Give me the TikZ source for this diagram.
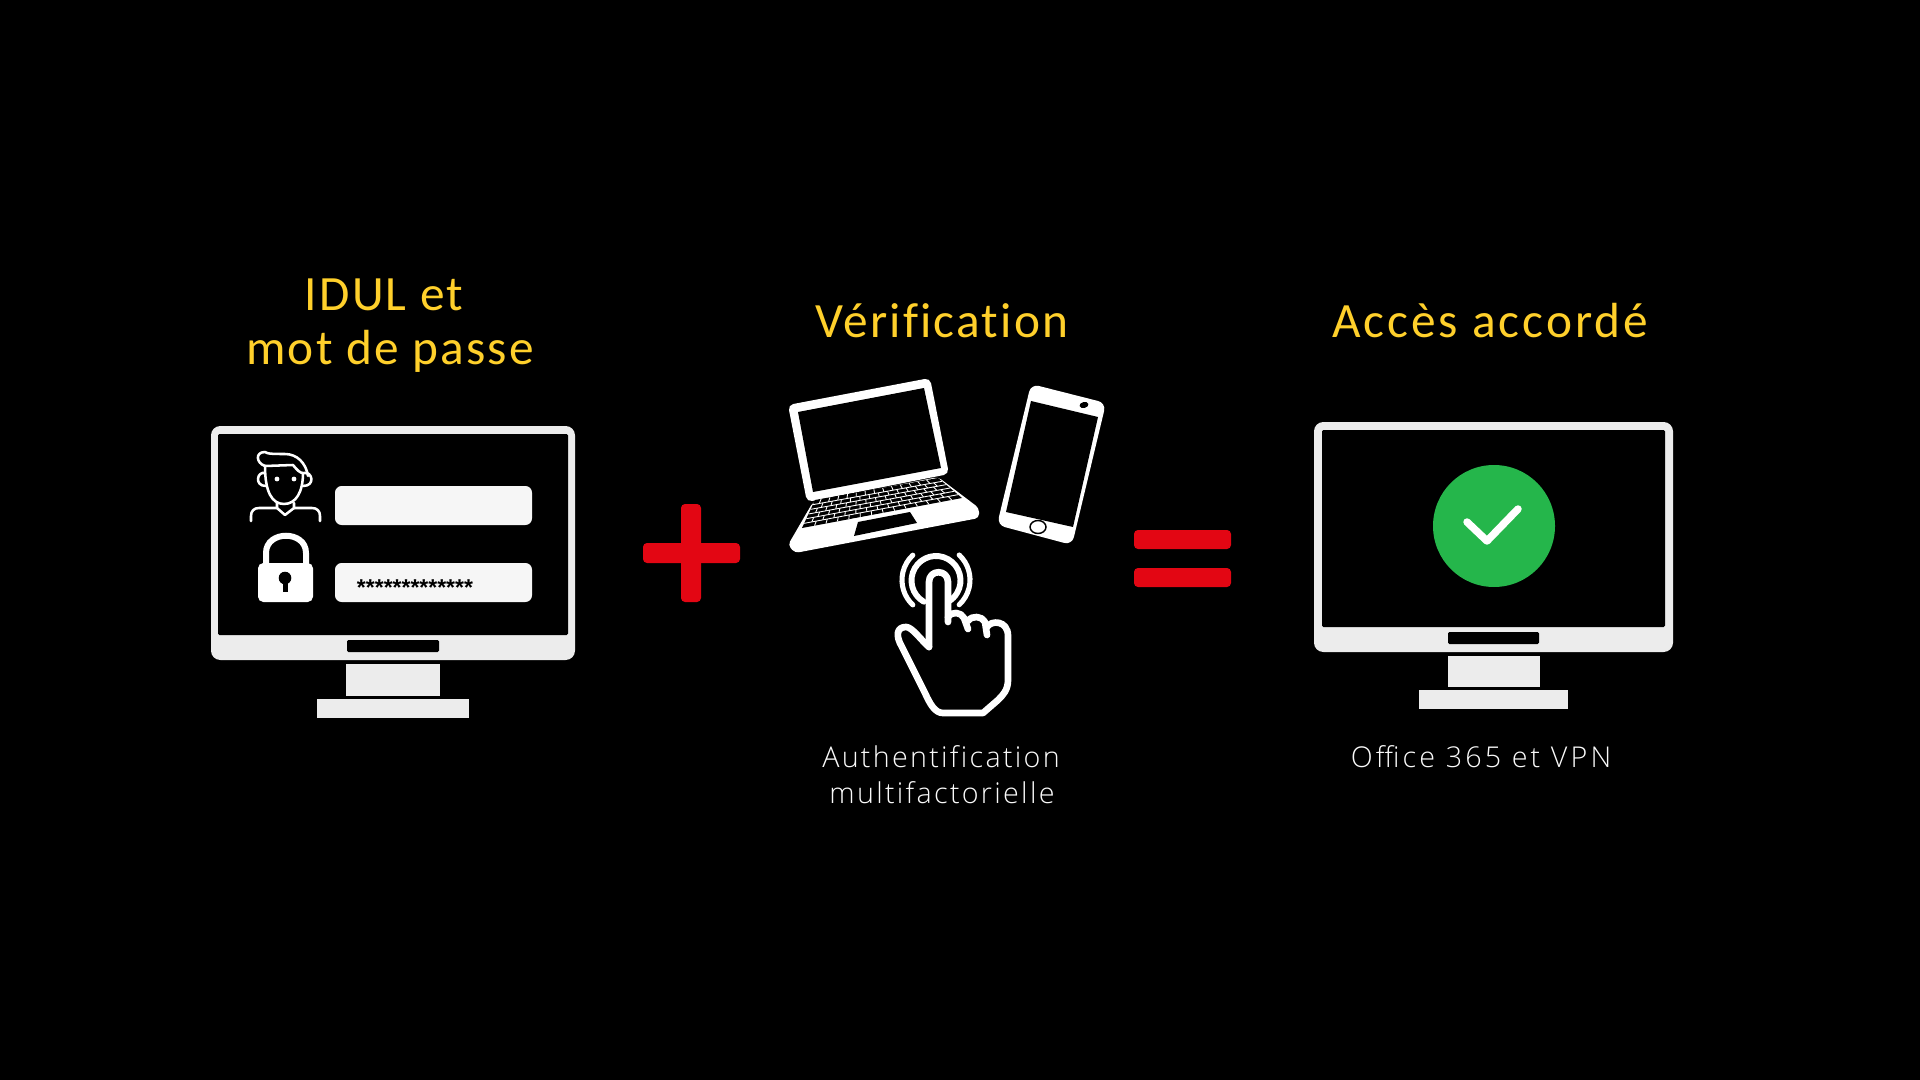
\documentclass[tikz,border=0pt]{standalone}
\usepackage{fontspec}
\usepackage{tikz}
\usetikzlibrary{calc}
\newfontfamily\titlefont[LetterSpace=4.5,Ligatures={NoCommon,NoRequired,NoContextual}]{Carlito}
\newfontfamily\accesfont[LetterSpace=6,Ligatures={NoCommon,NoRequired,NoContextual}]{Carlito}
\newfontfamily\captionfont[LetterSpace=8,Ligatures={NoCommon,NoRequired,NoContextual}]{Open Sans Light}
\newfontfamily\officefont[LetterSpace=11]{Open Sans Light}
\newfontfamily\starfont{Liberation Sans Bold}
\tikzset{
  monitorbody/.style={fill={rgb, 255:red, 236; green, 236; blue, 236 }},
  screenblack/.style={fill=black,rounded corners=1pt},
  whiteshape/.style={fill=white,rounded corners=4pt},
  blackshape/.style={fill=black},
  redsign/.style={fill={rgb, 255:red, 227; green, 6; blue, 19 },rounded corners=3pt},
  loginfield/.style={fill={rgb, 255:red, 246; green, 246; blue, 246 },rounded corners=5pt},
  iconline/.style={draw=white,line width=1.9pt,line cap=round,line join=round},
  handline/.style={draw=white,line width=5pt,line cap=round,line join=round},
  ringline/.style={draw=white,line width=3.8pt,line cap=round},
  keyline/.style={draw=white,line width=0.65pt},
  titletext/.style={anchor=base,inner sep=0pt,font=\titlefont\fontsize{37}{37}\selectfont,text={rgb, 255:red, 255; green, 208; blue, 43 }},
  captiontext/.style={anchor=base,inner sep=0pt,font=\captionfont\fontsize{21.5}{21.5}\selectfont,text={rgb, 255:red, 250; green, 250; blue, 250 }}
}

\begin{document}
\begin{tikzpicture}[x=0.75pt,y=0.75pt,yscale=-1,xscale=1]
\useasboundingbox (0,0) rectangle (1920,1080);
%Shape: Background
\fill [black] (0,0) rectangle (1920,1080);

%Shape: Left Monitor
\fill [monitorbody,rounded corners=7pt] (211,426) rectangle (575,660);
\fill [screenblack] (218,434) rectangle (568,635);
\fill [screenblack] (347,640) rectangle (439,652);
\fill [monitorbody] (346,664) rectangle (440,696);
\fill [monitorbody] (317,699) rectangle (469,718);
%Shape: Login Fields
\fill [loginfield] (335,486) rectangle (532,525);
\fill [loginfield] (335,563) rectangle (532,602);
%Shape: User
\draw [iconline] (265,466) .. controls (265,492) and (272,504) .. (284,504) .. controls (296,504) and (303,492) .. (303,473) ;
\draw [iconline] (265,466) .. controls (256,463) and (255,452) .. (265,452) .. controls (267,454) and (275,454) .. (285,454) .. controls (297,454) and (306,463) .. (308,476) ;
\draw [iconline] (265,466) -- (293,465) .. controls (297,470) and (300,473) .. (303,473) ;
\draw [iconline] (265,473) .. controls (257,471) and (254,486) .. (266,486) ;
\draw [iconline] (304,473) .. controls (312,471) and (316,486) .. (303,486) ;
\fill [white] (277,479) circle (2.4) ;
\fill [white] (294,479) circle (2.4) ;
\draw [iconline] (277,503) -- (277,508) -- (285,515) -- (294,508) -- (294,503) ;
\draw [iconline] (251,521) -- (251,516) .. controls (251,511) and (254,508) .. (259,508) -- (277,508) ;
\draw [iconline] (320,521) -- (320,516) .. controls (320,511) and (317,508) .. (312,508) -- (294,508) ;
%Shape: Lock
\draw [white,line width=4.5pt] (266,566) -- (266,553) .. controls (266,530) and (306,530) .. (306,553) -- (306,566) ;
\fill [whiteshape] (258,563) rectangle (313,602);
\fill [blackshape] (285,578) circle (6.3) ;
\fill [blackshape] (282.5,580) rectangle (287.5,592);
% Text Node
\draw (415,587.5) node (stars) [anchor=center,inner sep=0pt,font=\starfont\fontsize{17.2}{17.2}\selectfont] {*************};

%Shape: Plus
\fill [redsign] (681,504) rectangle (701,602);
\fill [redsign] (643,543) rectangle (740,563);

%Shape: Laptop Lid
\fill [whiteshape] (788,405) -- (930,378) -- (949,474) -- (807,502) -- cycle ;
\fill [blackshape] (798,412) -- (924,388) -- (941,468) -- (813,492) -- cycle ;
%Shape: Laptop Base
\fill [white,rounded corners=3pt] (813,502) -- (938,477) -- (979,508) -- (979,518) -- (795,553) -- (788,545) -- cycle ;
\coordinate (kbA) at (815,500);
\coordinate (kbB) at (938,478);
\coordinate (kbC) at (962,498);
\coordinate (kbD) at (802,528);
\fill [blackshape] (kbA) -- (kbB) -- (kbC) -- (kbD) -- cycle ;
\foreach \rownum in {1,...,5} {
  \pgfmathsetmacro\rowpos{\rownum/6}
  \draw [keyline] ($(kbA)!\rowpos!(kbD)$) -- ($(kbB)!\rowpos!(kbC)$) ;
}
\foreach \rownum in {0,...,5} {
  \foreach \colnum in {1,...,13} {
    \pgfmathsetmacro\colpos{(\colnum-0.3+0.4*mod(\rownum,2))/14}
    \pgfmathsetmacro\rowtop{\rownum/6}
    \pgfmathsetmacro\rowbot{(\rownum+1)/6}
    \draw [keyline] ($($(kbA)!\colpos!(kbB)$)!\rowtop!($(kbD)!\colpos!(kbC)$)$) -- ($($(kbA)!\colpos!(kbB)$)!\rowbot!($(kbD)!\colpos!(kbC)$)$) ;
  }
}
\fill [white] (852,519) -- (914,508) -- (914,514) -- (852,524) -- cycle ;
\fill [blackshape] (858,522) -- (910,512) -- (917,523) -- (854,536) -- cycle ;

%Shape: Phone
\fill [white,rounded corners=6pt] (1031,384) -- (1106,403) -- (1072,545) -- (997,525) -- cycle ;
\fill [blackshape] (1031,401) -- (1098,417) -- (1073,527) -- (1006,512) -- cycle ;
\fill [blackshape,rotate around={-13:(1084,405)}] (1084,405) ellipse (4.5 and 3) ;
\draw [draw=black,fill=white,line width=1.1pt] (1038,527) ellipse (8 and 6.5) ;

%Shape: Hand
\draw [handline] (929,647) -- (929,582) .. controls (929,569) and (948,569) .. (948,582) -- (948,622) ;
\draw [handline] (948,617) .. controls (952,611) and (961,612) .. (964,618) -- (968,629) ;
\draw [handline] (968,621) .. controls (972,615) and (982,616) .. (985,622) -- (987,635) ;
\draw [handline] (987,627) .. controls (991,620) and (1008,620) .. (1008,636) -- (1008,680) .. controls (1008,690) and (1003,695) .. (998,700) -- (983,713) -- (943,713) .. controls (935,713) and (930,704) .. (925,693) -- (902,647) .. controls (895,635) and (897,627) .. (906,627) .. controls (912,627) and (920,639) .. (929,647) ;
%Shape: Touch Rings
\draw [ringline,line width=4.4pt] (923.75,601.7) arc (120:420:24.5) ;
\draw [ringline] (912.8,604.9) arc (133:227:34) ;
\draw [ringline] (959.2,555) arc (-47:47:34) ;

%Shape: Equal
\fill [redsign] (1134,530) rectangle (1231,549);
\fill [redsign] (1134,568) rectangle (1231,587);

%Shape: Right Monitor
\fill [monitorbody,rounded corners=7pt] (1314,422) rectangle (1673,652);
\fill [screenblack] (1322,430) rectangle (1665,627);
\fill [screenblack] (1448,632) rectangle (1539,644);
\fill [monitorbody] (1448,656) rectangle (1540,687);
\fill [monitorbody] (1419,690) rectangle (1568,709);
%Shape: Check Circle
\fill [fill={rgb, 255:red, 37; green, 182; blue, 75 }] (1494,526) circle (61) ;
%Straight Lines
\draw [white,line width=5.6pt,line cap=round,line join=round] (1467,522) -- (1487,541) -- (1518,509) ;

% Text Node
\draw (384,311) node (titleidul) [titletext] {IDUL et};
% Text Node
\draw (390,365) node (titlemot) [titletext] {mot de passe};
% Text Node
\draw (942,338) node (titleverif) [titletext] {Vérification};
% Text Node
\draw (1490,338) node (titleacces) [titletext,font=\accesfont\fontsize{37}{37}\selectfont] {Accès accordé};
% Text Node
\draw (941,767) node (capauth) [captiontext] {Authentification};
% Text Node
\draw (942,803) node (capmulti) [captiontext] {multifactorielle};
% Text Node
\draw (1481,767) node (capoffice) [captiontext,font=\officefont\fontsize{21.5}{21.5}\selectfont] {Office 365 et VPN};

\end{tikzpicture}
\end{document}
